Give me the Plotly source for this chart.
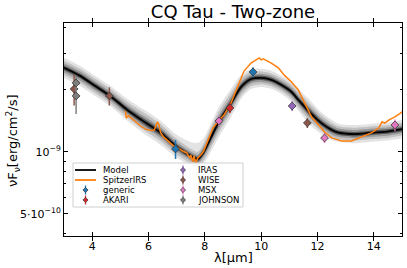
import plotly.graph_objects as go

# ---------------- data ----------------
model_wl = [3.00, 3.57, 4.11, 4.64, 5.25, 5.82, 6.43, 6.96, 7.50, 7.75, 7.96, 8.21, 8.50, 8.93, 9.29,
            9.64, 10.00, 10.36, 10.71, 11.07, 11.32, 11.61, 11.89, 12.14, 12.50, 12.75, 13.32, 13.93, 14.54, 15.00]
model_flux = [2.56e-9, 2.34e-9, 2.09e-9, 1.87e-9, 1.60e-9, 1.41e-9, 1.24e-9, 1.07e-9, 0.956e-9, 0.925e-9,
              1.00e-9, 1.17e-9, 1.40e-9, 1.73e-9, 2.07e-9, 2.26e-9, 2.29e-9, 2.24e-9, 2.12e-9, 1.96e-9,
              1.79e-9, 1.62e-9, 1.48e-9, 1.38e-9, 1.28e-9, 1.24e-9, 1.22e-9, 1.24e-9, 1.26e-9, 1.29e-9]
# model spread (dex) for the shaded confidence bands
spread_outer_up = [0.049, 0.049, 0.049, 0.049, 0.053, 0.058, 0.058, 0.058, 0.068, 0.078, 0.068, 0.068, 0.073, 0.068, 0.058,
                   0.049, 0.044, 0.044, 0.044, 0.049, 0.053, 0.058, 0.058, 0.053, 0.049, 0.044, 0.044, 0.044, 0.044, 0.044]
spread_outer_lo = [0.049, 0.049, 0.049, 0.049, 0.053, 0.058, 0.058, 0.053, 0.049, 0.049, 0.058, 0.068, 0.073, 0.068, 0.058,
                   0.049, 0.044, 0.044, 0.044, 0.049, 0.053, 0.058, 0.058, 0.053, 0.049, 0.044, 0.044, 0.044, 0.044, 0.044]
spread_mid = [0.035, 0.035, 0.035, 0.035, 0.038, 0.042, 0.042, 0.038, 0.035, 0.035, 0.042, 0.049, 0.052, 0.049, 0.042,
              0.035, 0.031, 0.031, 0.031, 0.035, 0.038, 0.042, 0.042, 0.038, 0.035, 0.031, 0.031, 0.031, 0.031, 0.031]
spread_inner = [0.022, 0.022, 0.022, 0.022, 0.024, 0.026, 0.026, 0.024, 0.022, 0.022, 0.026, 0.031, 0.033, 0.031, 0.026,
                0.022, 0.020, 0.020, 0.020, 0.022, 0.024, 0.026, 0.026, 0.024, 0.022, 0.020, 0.020, 0.020, 0.020, 0.020]
spread_core = [0.012, 0.012, 0.012, 0.012, 0.013, 0.015, 0.015, 0.013, 0.012, 0.012, 0.015, 0.017, 0.018, 0.017, 0.015,
               0.012, 0.011, 0.011, 0.011, 0.012, 0.013, 0.015, 0.015, 0.013, 0.012, 0.011, 0.011, 0.011, 0.011, 0.011]

irs_wl = [5.18, 5.21, 5.29, 5.39, 5.54, 5.71, 5.89, 6.07, 6.21, 6.29, 6.32, 6.36, 6.43, 6.54, 6.68, 6.86, 7.04,
          7.21, 7.36, 7.46, 7.50, 7.57, 7.61, 7.68, 7.75, 7.86, 7.96, 8.11, 8.29, 8.46, 8.68, 8.93, 9.18, 9.39,
          9.64, 9.82, 9.93, 10.00, 10.07, 10.21, 10.36, 10.61, 10.82, 11.07, 11.32, 11.54, 11.79, 12.04, 12.25,
          12.50, 12.86, 13.21, 13.57, 13.93, 14.18, 14.29, 14.39, 14.54, 14.75, 15.00, 15.07]
irs_flux = [1.58e-9, 1.46e-9, 1.50e-9, 1.46e-9, 1.40e-9, 1.34e-9, 1.29e-9, 1.27e-9, 1.28e-9, 1.37e-9, 1.40e-9,
            1.37e-9, 1.24e-9, 1.18e-9, 1.14e-9, 1.08e-9, 1.05e-9, 1.01e-9, 0.989e-9, 0.935e-9, 0.967e-9,
            0.894e-9, 0.956e-9, 0.884e-9, 0.935e-9, 0.967e-9, 1.01e-9, 1.13e-9, 1.31e-9, 1.40e-9, 1.51e-9,
            1.73e-9, 2.09e-9, 2.47e-9, 2.70e-9, 2.80e-9, 2.86e-9, 2.80e-9, 2.83e-9, 2.77e-9, 2.70e-9, 2.56e-9,
            2.36e-9, 2.19e-9, 2.00e-9, 1.73e-9, 1.48e-9, 1.35e-9, 1.25e-9, 1.17e-9, 1.13e-9, 1.13e-9, 1.18e-9,
            1.24e-9, 1.31e-9, 1.40e-9, 1.38e-9, 1.43e-9, 1.48e-9, 1.56e-9, 1.62e-9]

phot_names = ["generic", "AKARI", "IRAS", "WISE", "MSX", "JOHNSON"]
phot_wl = {
    "generic": [6.96, 9.71],
    "AKARI": [8.89],
    "IRAS": [11.10],
    "WISE": [3.36, 4.61, 11.64],
    "MSX": [8.50, 12.25, 14.75],
    "JOHNSON": [3.43, 3.43],
}
phot_flux = {
    "generic": [1.034e-9, 2.445e-9],
    "AKARI": [1.635e-9],
    "IRAS": [1.672e-9],
    "WISE": [2.022e-9, 1.870e-9, 1.383e-9],
    "MSX": [1.414e-9, 1.169e-9, 1.352e-9],
    "JOHNSON": [2.163e-9, 1.870e-9],
}
phot_err = {
    "generic": [0.11e-9, 0.136e-9],
    "AKARI": [0.091e-9],
    "IRAS": [0.093e-9],
    "WISE": [0.34e-9, 0.19e-9, 0.077e-9],
    "MSX": [0.079e-9, 0.065e-9, 0.085e-9],
    "JOHNSON": [0.19e-9, 0.34e-9],
}
phot_colors = {"generic": "#1f77b4", "AKARI": "#d62728", "IRAS": "#9467bd",
               "WISE": "#8c564b", "MSX": "#e377c2", "JOHNSON": "#7f7f7f"}

x_ticks = [4, 6, 8, 10, 12, 14]
y_ticks = [5e-10, 1e-9]
y_ticktext = ["5·10<sup>−10</sup>", "10<sup>−9</sup>"]
y_minor = [4e-10, 6e-10, 7e-10, 8e-10, 9e-10, 2e-9, 3e-9, 4e-9]

FONT = "DejaVu Sans"
Y_RANGE = [-9.408, -8.374]

# ---------------- figure ----------------
fig = go.Figure()

bands = [(spread_outer_up, spread_outer_lo, "#e3e3e3"),
         (spread_mid, spread_mid, "#c2c2c2"),
         (spread_inner, spread_inner, "#9a9a9a"),
         (spread_core, spread_core, "#555555")]
for up, lo, col in bands:
    upper = [f * 10 ** u for f, u in zip(model_flux, up)]
    lower = [f / 10 ** l for f, l in zip(model_flux, lo)]
    fig.add_trace(go.Scatter(x=model_wl, y=upper, mode="lines",
                             line=dict(width=0, shape="spline", smoothing=0.8),
                             hoverinfo="skip", showlegend=False))
    fig.add_trace(go.Scatter(x=model_wl, y=lower, mode="lines",
                             line=dict(width=0, shape="spline", smoothing=0.8),
                             fill="tonexty", fillcolor=col, hoverinfo="skip", showlegend=False))

fig.add_trace(go.Scatter(x=model_wl, y=model_flux, mode="lines", name="Model",
                         line=dict(color="black", width=1.8, shape="spline", smoothing=0.8),
                         showlegend=False))
fig.add_trace(go.Scatter(x=irs_wl, y=irs_flux, mode="lines", name="SpitzerIRS",
                         line=dict(color="#ff7f0e", width=1.5), showlegend=False))

for nm in phot_names:
    c = phot_colors[nm]
    fig.add_trace(go.Scatter(
        x=phot_wl[nm], y=phot_flux[nm], mode="markers", name=nm, showlegend=False,
        marker=dict(symbol="diamond", size=6, color=c, line=dict(color="#333333", width=0.8)),
        error_y=dict(type="data", array=phot_err[nm], color=c, thickness=1.5, width=0)))

# empty trace that carries the overlay axis used for the minor ticks
fig.add_trace(go.Scatter(x=[None], y=[None], yaxis="y2", mode="markers",
                         showlegend=False, hoverinfo="skip"))

# ---------------- manual legend (two columns, like the original) ----------------
L, R, T, B = 64, 402, 23, 236
def px(xp):
    return (xp - L) / (R - L)
def py(yp):
    return (B - yp) / (B - T)

fig.add_shape(type="rect", xref="paper", yref="paper",
              x0=px(73), x1=px(243), y0=py(207), y1=py(163),
              line=dict(color="#d0d0d0", width=1), fillcolor="rgba(255,255,255,0.85)", layer="above")

rows = [170, 180, 190, 200]
col1 = [("Model", "line", "black"), ("SpitzerIRS", "line", "#ff7f0e"),
        ("generic", "marker", phot_colors["generic"]), ("AKARI", "marker", phot_colors["AKARI"])]
col2 = [("IRAS", "marker", phot_colors["IRAS"]), ("WISE", "marker", phot_colors["WISE"]),
        ("MSX", "marker", phot_colors["MSX"]), ("JOHNSON", "marker", phot_colors["JOHNSON"])]

def legend_item(label, kind, color, cx, tx, ry):
    if kind == "line":
        fig.add_shape(type="line", xref="paper", yref="paper", x0=px(cx - 10.5), x1=px(cx + 10.5),
                      y0=py(ry), y1=py(ry), line=dict(color=color, width=1.8), layer="above")
    else:
        fig.add_shape(type="line", xref="paper", yref="paper", ysizemode="pixel", yanchor=py(ry),
                      x0=px(cx), x1=px(cx), y0=-4.5, y1=4.5, line=dict(color=color, width=1.3), layer="above")
        fig.add_shape(type="path", xref="paper", yref="paper", xsizemode="pixel", ysizemode="pixel",
                      xanchor=px(cx), yanchor=py(ry), path="M -2.6 0 L 0 2.6 L 2.6 0 L 0 -2.6 Z",
                      fillcolor=color, line=dict(color="#333333", width=0.7), layer="above")
    fig.add_annotation(text=label, xref="paper", yref="paper", x=px(tx), y=py(ry),
                       xanchor="left", yanchor="middle", showarrow=False, borderpad=0,
                       font=dict(family=FONT, size=8.5, color="black"))

for (lab, kind, col), ry in zip(col1, rows):
    legend_item(lab, kind, col, 85.5, 102, ry)
for (lab, kind, col), ry in zip(col2, rows):
    legend_item(lab, kind, col, 183, 197, ry)

# ---------------- axis titles ----------------
fig.add_annotation(text="νF<sub>ν</sub>[erg/cm<sup>2</sup>/s]", xref="paper", yref="paper",
                   x=px(13), y=py(141), xanchor="center", yanchor="middle", textangle=-90,
                   showarrow=False, font=dict(family=FONT, size=13, color="black"))
fig.add_annotation(text="λ[μm]", xref="paper", yref="paper", x=px(233), y=py(257),
                   xanchor="center", yanchor="middle", showarrow=False,
                   font=dict(family=FONT, size=13, color="black"))

fig.update_layout(
    width=407, height=268,
    margin=dict(l=L, r=407 - R, t=T, b=268 - B),
    paper_bgcolor="white", plot_bgcolor="white",
    showlegend=False,
    title=dict(text="CQ Tau - Two-zone", x=233 / 407, xref="container", xanchor="center",
               y=1 - 12 / 268, yref="container", yanchor="middle",
               font=dict(family=FONT, size=18, color="black")),
    font=dict(family=FONT, size=11, color="black"),
    yaxis2=dict(overlaying="y", anchor="x", side="left", type="log", range=Y_RANGE,
                tickmode="array", tickvals=y_minor, ticks="inside", ticklen=2, tickwidth=1,
                tickcolor="black", showticklabels=False, showline=False, mirror="allticks",
                showgrid=False, zeroline=False, fixedrange=True),
)
fig.update_xaxes(range=[3, 15], tickvals=x_ticks, ticks="inside", ticklen=4, tickwidth=1,
                 tickcolor="black", showline=True, linecolor="black", linewidth=1, mirror="allticks",
                 showgrid=False, zeroline=False, tickfont=dict(family=FONT, size=11))
fig.update_layout(yaxis=dict(type="log", range=Y_RANGE, tickvals=y_ticks, ticktext=y_ticktext,
                             ticks="inside", ticklen=4, tickwidth=1, tickcolor="black",
                             showline=True, linecolor="black", linewidth=1, mirror="allticks",
                             showgrid=False, zeroline=False, tickfont=dict(family=FONT, size=11)))

fig.write_html("out.html", config={"displayModeBar": False},
               post_script="document.body.style.margin='0px';")
